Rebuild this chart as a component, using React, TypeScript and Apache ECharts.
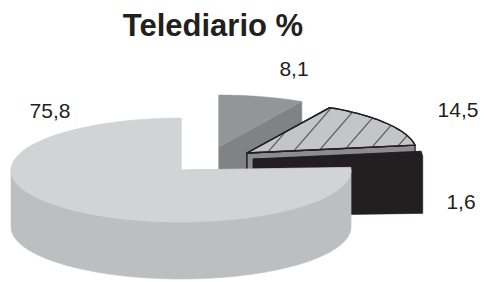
import React, { useEffect, useRef } from 'react';
import * as echarts from 'echarts';

// ---- data ----
const chartTitle = 'Telediario %';
const sliceNames = ['Segmento A', 'Segmento B', 'Segmento C', 'Segmento D'];
const values = [8.1, 14.5, 1.6, 75.8];
const valueLabels = values.map((v) => v.toFixed(1).replace('.', ','));

// ---- styling / layout ----
const topColors = ['#939598', '#c4c5c7', '#231f20', '#d1d3d4'];
const wallColors = ['#808285', '#8c8d90', '#231f20', '#bcbec0'];
const strokeColors = [null, '#231f20', null, null];
const explodeOffsets = [[38, -23], [66, -17], [72, -11], [0, 0]];
const labelPositions = [[294, 68], [458, 109], [461, 201], [50, 110]];
const hatched = [false, true, false, false];
const CX = 181, CY = 170, RX = 170, RY = 52, DEPTH = 57;
const FONT = "'Liberation Sans', Arial, Helvetica, sans-serif";

function pt(cx: number, cy: number, deg: number): number[] {
  const r = (deg * Math.PI) / 180;
  return [cx + RX * Math.sin(r), cy - RY * Math.cos(r)];
}
function arc(cx: number, cy: number, a: number, b: number): number[][] {
  const pts: number[][] = [];
  const n = Math.max(2, Math.ceil(Math.abs(b - a)));
  for (let i = 0; i <= n; i++) pts.push(pt(cx, cy, a + ((b - a) * i) / n));
  return pts;
}

function hatchLines(poly: number[][], center: number[]) {
  const s = 1.15;
  const f = (p: number[], c: number) => p[0] + p[1] / s - c;
  const cs = poly.map((p) => p[0] + p[1] / s);
  const cmin = Math.min(...cs), cmax = Math.max(...cs);
  const base = center[0] + center[1] / s + 20;
  const lines: number[][][] = [];
  for (let k = -20; k < 40; k++) {
    const c = base + 25 * k;
    if (c <= cmin || c >= cmax) continue;
    const hits: number[][] = [];
    for (let i = 0; i < poly.length; i++) {
      const p = poly[i], q = poly[(i + 1) % poly.length];
      const fp = f(p, c), fq = f(q, c);
      if ((fp <= 0 && fq > 0) || (fp > 0 && fq <= 0)) {
        const t = fp / (fp - fq);
        hits.push([p[0] + (q[0] - p[0]) * t, p[1] + (q[1] - p[1]) * t]);
      }
    }
    if (hits.length >= 2) {
      hits.sort((u, v) => u[1] - v[1]);
      lines.push([hits[0], hits[hits.length - 1]]);
    }
  }
  return lines;
}

export default function App() {
  const ref = useRef<HTMLDivElement>(null);
  useEffect(() => {
    document.body.style.margin = '0';
    if (!ref.current) return;
    const chart = echarts.init(ref.current, null, { renderer: 'svg' });
    const total = values.reduce((a, b) => a + b, 0);

    const renderItem = (params: any, api: any) => {
      const idx = params.dataIndex;
      const val = api.value(1);
      let startVal = 0;
      for (let i = 0; i < idx; i++) startVal += values[i];
      const a = (startVal / total) * 360;
      const b = ((startVal + val) / total) * 360;
      const cx = CX + explodeOffsets[idx][0];
      const cy = CY + explodeOffsets[idx][1];
      const C = [cx, cy];
      const stroke = strokeColors[idx];
      const lw = stroke ? 1.3 : 0;
      const children: any[] = [];
      let z = idx * 100;
      const sh = (points: number[][], fill: string) => ({
        type: 'polygon',
        z2: z++,
        shape: { points },
        style: { fill, stroke: stroke || fill, lineWidth: stroke ? lw : 0.5, lineJoin: 'round' },
      });
      // radial walls
      for (const ang of [a, b]) {
        const P = pt(cx, cy, ang);
        children.push(sh([C, P, [P[0], P[1] + DEPTH], [C[0], C[1] + DEPTH]], wallColors[idx]));
      }
      // outer wall (front half only)
      const fa = Math.max(a, 90), fb = Math.min(b, 270);
      if (fb > fa) {
        const top = arc(cx, cy, fa, fb);
        const bot = top.map((p) => [p[0], p[1] + DEPTH]).reverse();
        children.push(sh(top.concat(bot), wallColors[idx]));
      }
      // top face
      const face = [C].concat(arc(cx, cy, a, b));
      children.push(sh(face, topColors[idx]));
      if (hatched[idx]) {
        for (const ln of hatchLines(face, C)) {
          children.push({
            type: 'line',
            z2: z++,
            shape: { x1: ln[0][0], y1: ln[0][1], x2: ln[1][0], y2: ln[1][1] },
            style: { stroke: '#58595b', lineWidth: 1.2 },
          });
        }
        children.push({
          type: 'polygon',
          z2: z++,
          shape: { points: face },
          style: { fill: 'none', stroke: '#231f20', lineWidth: 1.3, lineJoin: 'round' },
        });
      }
      // value label
      children.push({
        type: 'text',
        z2: 1000 + idx,
        x: labelPositions[idx][0],
        y: labelPositions[idx][1],
        style: {
          text: valueLabels[idx],
          fontSize: 21,
          fontFamily: FONT,
          fill: '#231f20',
          align: 'center',
          verticalAlign: 'middle',
        },
      });
      return { type: 'group', children };
    };

    chart.setOption({
      animation: false,
      backgroundColor: '#ffffff',
      graphic: [
        {
          type: 'text',
          x: 213,
          y: 25,
          style: {
            text: chartTitle,
            fontSize: 31,
            fontWeight: 'bold',
            fontFamily: FONT,
            fill: '#231f20',
            align: 'center',
            verticalAlign: 'middle',
          },
        },
      ],
      series: [
        {
          type: 'custom',
          coordinateSystem: 'none',
          renderItem,
          data: values.map((v, i) => ({ name: sliceNames[i], value: [i, v] })),
        },
      ],
    });
    return () => chart.dispose();
  }, []);
  return <div ref={ref} style={{ width: 484, height: 282 }} />;
}
